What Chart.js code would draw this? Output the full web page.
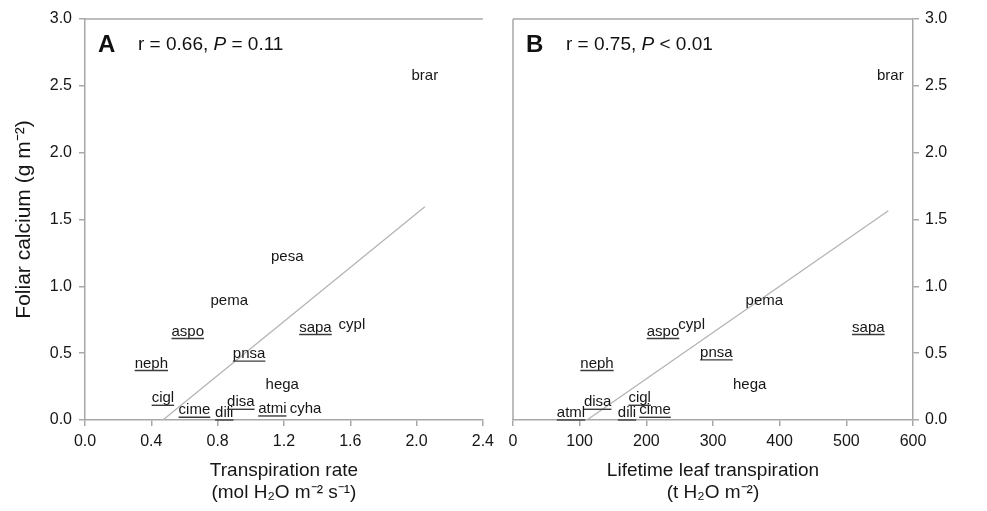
<!DOCTYPE html>
<html>
<head>
<meta charset="utf-8">
<script src="https://cdn.jsdelivr.net/npm/chart.js@4.4.0/dist/chart.umd.min.js"></script>
<style>
    body { margin: 0; background: #fff; }
    #wrap { position: relative; width: 987px; height: 511px; }
    canvas { position: absolute; top: 0; }
    #chartA { left: 0; }
    #chartB { left: 500px; }
</style>
</head>
<body>
<div id="wrap">
    <canvas id="chartA" width="500" height="511"></canvas>
    <canvas id="chartB" width="487" height="511"></canvas>
</div>
<script>
// Panel A: transpiration rate vs foliar calcium
const speciesA = ['brar', 'pesa', 'pema', 'aspo', 'sapa', 'cypl', 'pnsa', 'neph', 'hega', 'cigl', 'cime', 'dili', 'disa', 'atmi', 'cyha'];
const rateA = [2.05, 1.22, 0.87, 0.62, 1.39, 1.61, 0.99, 0.40, 1.19, 0.47, 0.66, 0.84, 0.94, 1.13, 1.33];
const calciumA = [2.58, 1.23, 0.90, 0.67, 0.70, 0.72, 0.50, 0.43, 0.27, 0.17, 0.08, 0.06, 0.14, 0.09, 0.09];
const underlineA = [0, 0, 0, 1, 1, 0, 1, 1, 0, 1, 1, 1, 1, 1, 0];
const fitRateA = [0.47, 2.05];
const fitCalciumA = [0, 1.595];

// Panel B: lifetime leaf transpiration vs foliar calcium
const speciesB = ['brar', 'pema', 'aspo', 'cypl', 'sapa', 'pnsa', 'neph', 'hega', 'disa', 'cigl', 'atml', 'dili', 'cime'];
const lifetimeB = [566, 377, 225, 268, 533, 305, 126, 355, 127, 190, 87, 171, 213];
const calciumB = [2.58, 0.90, 0.67, 0.72, 0.70, 0.51, 0.43, 0.27, 0.14, 0.17, 0.06, 0.06, 0.08];
const underlineB = [0, 0, 1, 0, 1, 1, 1, 0, 1, 1, 1, 1, 1];
const fitLifetimeB = [111, 563];
const fitCalciumB = [0, 1.565];

// Tick values
const ticksRate = [0, 0.4, 0.8, 1.2, 1.6, 2.0, 2.4];
const ticksLifetime = [0, 100, 200, 300, 400, 500, 600];
const ticksCalcium = [0, 0.5, 1.0, 1.5, 2.0, 2.5, 3.0];

const FONT = "'Liberation Sans', Arial, Helvetica, sans-serif";
const AXIS_COLOR = '#a8a8a8';
const TEXT_COLOR = '#161616';
const CA_TITLE = 'Foliar calcium (g m\u207B\u00B2)';

Chart.defaults.font.family = FONT;
Chart.defaults.color = TEXT_COLOR;

function setTicks(values) {
    return function(scale) {
        scale.ticks = values.map(v => ({value: v}));
    };
}

// draws species names at the data points, the frame lines and the panel annotation
const panelPlugin = {
    id: 'panel',
    afterDatasetsDraw(chart, args, opts) {
        const ctx = chart.ctx;
        const area = chart.chartArea;
        const ds = chart.data.datasets[0];
        const meta = chart.getDatasetMeta(0);

        ctx.save();
        // frame lines
        ctx.strokeStyle = AXIS_COLOR;
        ctx.lineWidth = 1.5;
        ctx.beginPath();
        ctx.moveTo(area.left, area.top);
        ctx.lineTo(area.right, area.top);
        if (opts.leftLine) {
            ctx.moveTo(area.left, area.top);
            ctx.lineTo(area.left, area.bottom);
        }
        ctx.stroke();

        // species labels
        ctx.font = '15px ' + FONT;
        ctx.textAlign = 'center';
        ctx.textBaseline = 'middle';
        meta.data.forEach(function(pt, i) {
            const name = ds.names[i];
            ctx.fillStyle = TEXT_COLOR;
            ctx.fillText(name, pt.x, pt.y + 1);
            if (ds.underline[i]) {
                const w = ctx.measureText(name).width;
                ctx.strokeStyle = '#3c3c3c';
                ctx.lineWidth = 1.4;
                ctx.beginPath();
                ctx.moveTo(pt.x - w / 2, pt.y + 8);
                ctx.lineTo(pt.x + w / 2, pt.y + 8);
                ctx.stroke();
            }
        });

        // panel letter and statistics
        const ty = area.top + 26;
        ctx.textAlign = 'left';
        ctx.fillStyle = '#111';
        ctx.font = 'bold 24px ' + FONT;
        ctx.fillText(opts.letter, area.left + 13, ty);
        let x = area.left + 53;
        opts.stats.forEach(function(seg) {
            ctx.font = (seg.italic ? 'italic ' : '') + '19px ' + FONT;
            ctx.fillText(seg.text, x, ty);
            x += ctx.measureText(seg.text).width;
        });

        // right-hand axis title reads bottom to top
        if (opts.rightTitle) {
            ctx.font = '21px ' + FONT;
            ctx.textAlign = 'center';
            ctx.translate(979, (area.top + area.bottom) / 2);
            ctx.rotate(-Math.PI / 2);
            ctx.fillText(opts.rightTitle, 0, 0);
        }
        ctx.restore();
    }
};

function pointsOf(xs, ys) {
    return xs.map((x, i) => ({x: x, y: ys[i]}));
}

function buildDatasets(xs, ys, names, underline, fitX, fitY) {
    return [{
        type: 'scatter',
        data: pointsOf(xs, ys),
        names: names,
        underline: underline,
        pointRadius: 0,
        pointHoverRadius: 0
    }, {
        type: 'line',
        data: pointsOf(fitX, fitY),
        borderColor: '#b4b4b4',
        borderWidth: 1.3,
        pointRadius: 0,
        fill: false
    }];
}

const tickFont = {size: 16};
const gridOpts = {drawOnChartArea: false, drawTicks: true, tickLength: 6, color: AXIS_COLOR, lineWidth: 1.5};
const borderOpts = {color: AXIS_COLOR, width: 1.5};

new Chart(document.getElementById('chartA'), {
    type: 'scatter',
    data: {datasets: buildDatasets(rateA, calciumA, speciesA, underlineA, fitRateA, fitCalciumA)},
    plugins: [panelPlugin],
    options: {
        responsive: false,
        animation: false,
        devicePixelRatio: 1,
        layout: {padding: {left: 0, top: 19, right: 15, bottom: 0}},
        plugins: {
            legend: {display: false},
            tooltip: {enabled: false},
            panel: {
                letter: 'A',
                leftLine: false,
                stats: [{text: 'r = 0.66, '}, {text: 'P', italic: true}, {text: ' = 0.11'}]
            }
        },
        scales: {
            x: {
                type: 'linear',
                min: 0, max: 2.4,
                afterBuildTicks: setTicks(ticksRate),
                afterFit: function(scale) { scale.height = 91; },
                grid: gridOpts,
                border: borderOpts,
                ticks: {font: tickFont, padding: 6, maxRotation: 0, callback: v => v.toFixed(1)},
                title: {
                    display: true,
                    text: ['Transpiration rate', '(mol H\u2082O m\u207B\u00B2 s\u207B\u00B9)'],
                    font: {size: 19, lineHeight: 1.15},
                    padding: {top: 0, bottom: 7}
                }
            },
            y: {
                type: 'linear',
                min: 0, max: 3,
                afterBuildTicks: setTicks(ticksCalcium),
                afterFit: function(scale) { scale.width = 85; },
                grid: gridOpts,
                border: borderOpts,
                ticks: {font: tickFont, padding: 7, callback: v => v.toFixed(1)},
                title: {
                    display: true,
                    text: CA_TITLE,
                    font: {size: 21, lineHeight: 1.2},
                    padding: {top: 12, bottom: 0}
                }
            }
        }
    }
});

new Chart(document.getElementById('chartB'), {
    type: 'scatter',
    data: {datasets: buildDatasets(lifetimeB, calciumB, speciesB, underlineB, fitLifetimeB, fitCalciumB)},
    plugins: [panelPlugin],
    options: {
        responsive: false,
        animation: false,
        devicePixelRatio: 1,
        layout: {padding: {left: 13, top: 19, right: 0, bottom: 0}},
        plugins: {
            legend: {display: false},
            tooltip: {enabled: false},
            panel: {
                letter: 'B',
                leftLine: true,
                rightTitle: CA_TITLE,
                stats: [{text: 'r = 0.75, '}, {text: 'P', italic: true}, {text: ' < 0.01'}]
            }
        },
        scales: {
            x: {
                type: 'linear',
                min: 0, max: 600,
                afterBuildTicks: setTicks(ticksLifetime),
                afterFit: function(scale) { scale.height = 91; },
                grid: gridOpts,
                border: borderOpts,
                ticks: {font: tickFont, padding: 6, maxRotation: 0},
                title: {
                    display: true,
                    text: ['Lifetime leaf transpiration', '(t H\u2082O m\u207B\u00B2)'],
                    font: {size: 19, lineHeight: 1.15},
                    padding: {top: 0, bottom: 7}
                }
            },
            y: {
                type: 'linear',
                position: 'right',
                min: 0, max: 3,
                afterBuildTicks: setTicks(ticksCalcium),
                afterFit: function(scale) { scale.width = 74; },
                grid: gridOpts,
                border: borderOpts,
                ticks: {font: tickFont, padding: 6, callback: v => v.toFixed(1)},
                title: {display: false}
            }
        }
    }
});
</script>
</body>
</html>
